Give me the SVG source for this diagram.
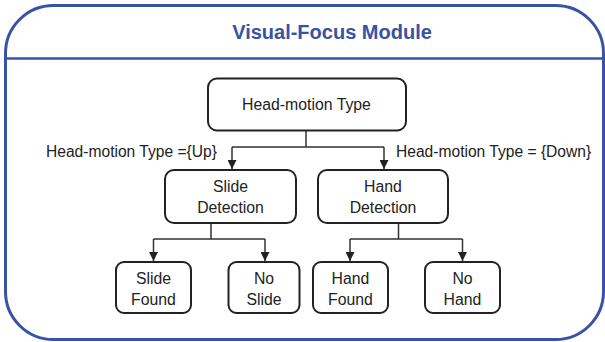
<svg xmlns="http://www.w3.org/2000/svg" width="605" height="342" viewBox="0 0 605 342">
<style>
.frame{fill:none;stroke:#3953a4;stroke-width:3}
.box{fill:#fff;stroke:#222;stroke-width:2}
.t{font-family:"Liberation Sans",Arial,sans-serif;font-size:15.8px;fill:#222;text-anchor:middle}
.lbl{font-family:"Liberation Sans",Arial,sans-serif;font-size:15.6px;fill:#222}
.title{font-family:"Liberation Sans",Arial,sans-serif;font-size:20px;font-weight:bold;fill:#3953a4;text-anchor:middle}
.c{fill:none;stroke:#333;stroke-width:1.5}
</style>
<defs>
<marker id="ah" viewBox="0 0 10 10" refX="10" refY="5" markerWidth="9" markerHeight="9" markerUnits="userSpaceOnUse" orient="auto">
<path d="M0,0 L10,5 L0,10 z" fill="#222"/>
</marker>
</defs>
<g id="frame">
<rect class="frame" x="5.5" y="5.5" width="598" height="334" rx="48" ry="48"/>
<line x1="5" y1="58.5" x2="604" y2="58.5" stroke="#3953a4" stroke-width="2.5"/>
<text class="title" x="332" y="39">Visual-Focus Module</text>
</g>
<g id="connectors">
<path class="c" d="M306,130 V147 M232,147 H384"/>
<path class="c" d="M232,147 V169" marker-end="url(#ah)"/>
<path class="c" d="M384,147 V169" marker-end="url(#ah)"/>
<path class="c" d="M211,223 V239 M153.5,239 H265"/>
<path class="c" d="M153.5,239 V261" marker-end="url(#ah)"/>
<path class="c" d="M265,239 V261" marker-end="url(#ah)"/>
<path class="c" d="M398.5,223 V239 M350,239 H462.5"/>
<path class="c" d="M350,239 V261" marker-end="url(#ah)"/>
<path class="c" d="M462.5,239 V261" marker-end="url(#ah)"/>
<text class="lbl" x="46" y="157">Head-motion Type ={Up}</text>
<text class="lbl" x="396" y="157">Head-motion Type = {Down}</text>
</g>
<g id="head-motion-type">
<rect class="box" x="208" y="78.5" width="198" height="52" rx="9"/>
<text class="t" x="306.5" y="110">Head-motion Type</text>
</g>
<g id="slide-detection">
<rect class="box" x="165" y="170" width="131" height="53" rx="9"/>
<text class="t" x="230.5" y="192">Slide</text>
<text class="t" x="230.5" y="213">Detection</text>
</g>
<g id="hand-detection">
<rect class="box" x="318" y="170" width="130" height="53" rx="9"/>
<text class="t" x="383" y="192">Hand</text>
<text class="t" x="383" y="213">Detection</text>
</g>
<g id="slide-found">
<rect class="box" x="116" y="262" width="75" height="51" rx="8"/>
<text class="t" x="153.5" y="284">Slide</text>
<text class="t" x="153.5" y="305">Found</text>
</g>
<g id="no-slide">
<rect class="box" x="228.5" y="262" width="71" height="51" rx="8"/>
<text class="t" x="264" y="284">No</text>
<text class="t" x="264" y="305">Slide</text>
</g>
<g id="hand-found">
<rect class="box" x="313" y="262" width="75" height="51" rx="8"/>
<text class="t" x="350.5" y="284">Hand</text>
<text class="t" x="350.5" y="305">Found</text>
</g>
<g id="no-hand">
<rect class="box" x="425" y="262" width="75" height="51" rx="8"/>
<text class="t" x="462.5" y="284">No</text>
<text class="t" x="462.5" y="305">Hand</text>
</g>
</svg>
